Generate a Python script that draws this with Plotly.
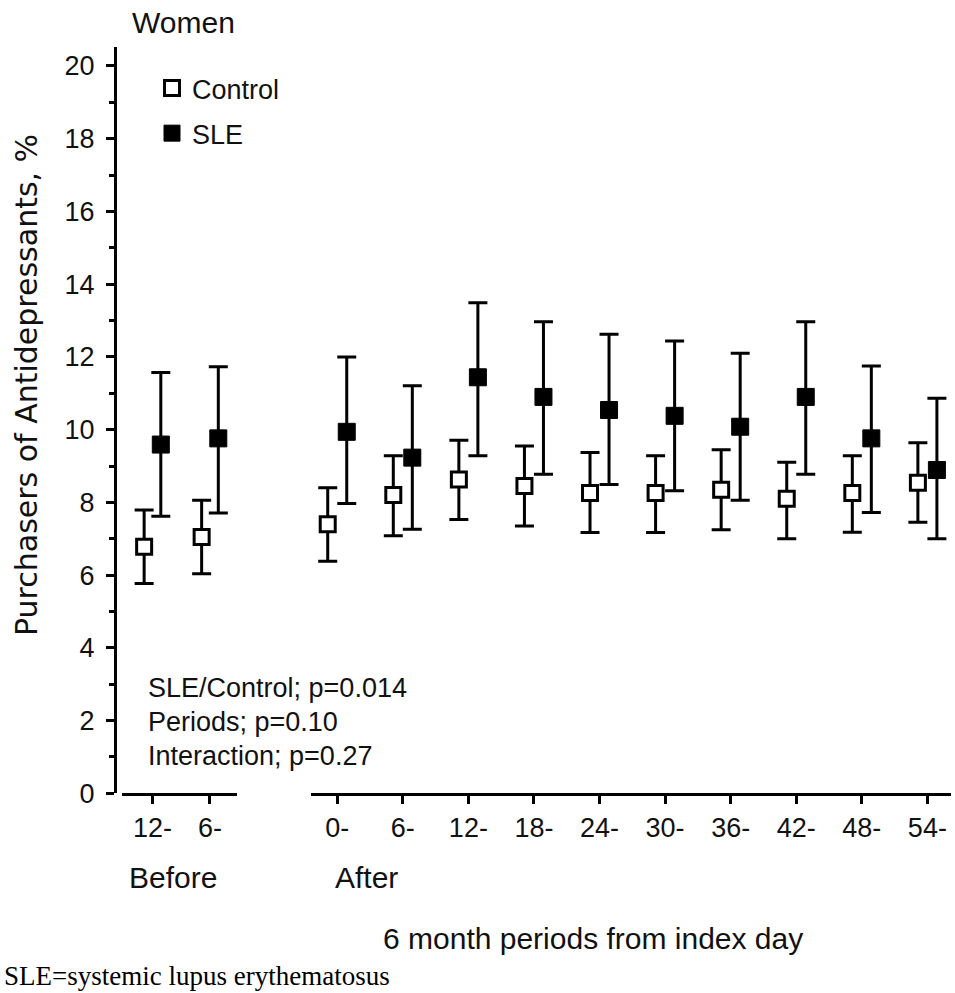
import plotly.graph_objects as go

# ---------------- data ----------------
before_labels = ["12-", "6-"]
after_labels = ["0-", "6-", "12-", "18-", "24-", "30-", "36-", "42-", "48-", "54-"]

control_before = [6.78, 7.05]
control_before_hi = [7.79, 8.06]
control_before_lo = [5.77, 6.04]
sle_before = [9.59, 9.76]
sle_before_hi = [11.57, 11.73]
sle_before_lo = [7.62, 7.71]

control_after = [7.40, 8.20, 8.63, 8.45, 8.26, 8.26, 8.35, 8.10, 8.26, 8.54]
control_after_hi = [8.40, 9.28, 9.71, 9.55, 9.37, 9.28, 9.45, 9.10, 9.28, 9.64]
control_after_lo = [6.38, 7.08, 7.53, 7.35, 7.17, 7.17, 7.25, 7.00, 7.18, 7.45]
sle_after = [9.94, 9.23, 11.44, 10.90, 10.54, 10.38, 10.08, 10.90, 9.76, 8.89]
sle_after_hi = [12.00, 11.21, 13.49, 12.97, 12.62, 12.44, 12.10, 12.97, 11.75, 10.86]
sle_after_lo = [7.97, 7.26, 9.28, 8.77, 8.49, 8.32, 8.06, 8.77, 7.72, 7.00]

y_ticks = list(range(0, 21, 2))
stats_lines = ["SLE/Control; p=0.014", "Periods; p=0.10", "Interaction; p=0.27"]

# ---------------- layout helpers ----------------
W, H = 955, 993
def fx(px):
    return px / W
def fy(py):
    return 1 - py / H

FONT = "Liberation Sans, Arial, sans-serif"
FS = 27
TXT = "#111"
OFF = 0.145


def err(vals, hi, lo):
    return dict(type="data", symmetric=False,
                array=[h - v for h, v in zip(hi, vals)],
                arrayminus=[v - l for v, l in zip(vals, lo)],
                color="black", thickness=3, width=9.5)


ctrl_marker = dict(symbol="square", size=15, color="white", line=dict(color="black", width=3))
sle_marker = dict(symbol="square", size=17, color="black", line=dict(color="black", width=1))

fig = go.Figure()

xb = list(range(len(before_labels)))
xa = list(range(len(after_labels)))

fig.add_trace(go.Scatter(x=[i - OFF for i in xb], y=control_before, mode="markers",
                         marker=ctrl_marker, error_y=err(control_before, control_before_hi, control_before_lo),
                         name="Control", legendgroup="c", xaxis="x", yaxis="y"))
fig.add_trace(go.Scatter(x=[i - OFF for i in xa], y=control_after, mode="markers",
                         marker=ctrl_marker, error_y=err(control_after, control_after_hi, control_after_lo),
                         name="Control", legendgroup="c", showlegend=False, xaxis="x2", yaxis="y"))
fig.add_trace(go.Scatter(x=[i + OFF for i in xb], y=sle_before, mode="markers",
                         marker=sle_marker, error_y=err(sle_before, sle_before_hi, sle_before_lo),
                         name="SLE", legendgroup="s", xaxis="x", yaxis="y"))
fig.add_trace(go.Scatter(x=[i + OFF for i in xa], y=sle_after, mode="markers",
                         marker=sle_marker, error_y=err(sle_after, sle_after_hi, sle_after_lo),
                         name="SLE", legendgroup="s", showlegend=False, xaxis="x2", yaxis="y"))

axis_common = dict(showline=True, linecolor="black", linewidth=3, ticks="outside",
                   ticklen=8, tickwidth=2.5, tickcolor="black", showgrid=False, zeroline=False,
                   tickfont=dict(family=FONT, size=FS, color=TXT), fixedrange=True)

fig.update_layout(
    autosize=True,
    margin=dict(l=0, r=0, t=0, b=0, autoexpand=False),
    paper_bgcolor="white", plot_bgcolor="white",
    showlegend=True,
    legend=dict(x=fx(152), y=fy(64), xanchor="left", yanchor="top",
                font=dict(family=FONT, size=FS, color=TXT),
                bgcolor="rgba(0,0,0,0)", itemwidth=30, tracegroupgap=7),
    xaxis=dict(domain=[fx(122), fx(237)], range=[-0.53, 1.47], anchor="y",
               tickvals=xb, ticktext=before_labels, **axis_common),
    xaxis2=dict(domain=[fx(311), fx(951)], range=[-0.40, 9.36], anchor="y",
                tickvals=xa, ticktext=after_labels, **axis_common),
    yaxis=dict(domain=[fy(793.3), fy(46.7)], range=[0, 20.53], anchor="free", position=fx(115),
               tickvals=y_ticks, minor=dict(dtick=1, tick0=0, ticks="outside", ticklen=5,
                                            tickwidth=2.5, tickcolor="black"),
               ticklabelstandoff=6, **axis_common),
)


def txt(text, x, y, xanchor="center", size=FS, family=FONT, angle=0, color=TXT):
    return dict(text=text, x=fx(x), y=fy(y), xref="paper", yref="paper",
                xanchor=xanchor, yanchor="middle", textangle=angle, showarrow=False,
                font=dict(family=family, size=size, color=color))


ann = [txt("Women", 183, 23, size=30),
       txt("Purchasers of Antidepressants, %", 27, 385, angle=-90,
           family="DejaVu Sans, Verdana, sans-serif", size=30)]
for i, line in enumerate(stats_lines):
    ann.append(txt(line, 146, 688 + 34 * i, xanchor="left"))
ann.append(txt("Before", 173, 877, size=30))
ann.append(txt("After", 366, 877, size=30))
ann.append(txt("6 month periods from index day", 593, 938, size=30))
ann.append(txt("SLE=systemic lupus erythematosus", 2, 976, xanchor="left",
               family="Liberation Serif, Times New Roman, serif", size=27, color="black"))
fig.update_layout(annotations=ann)

fig.write_html("out.html",
               default_width="100vw", default_height="100vh",
               config={"displayModeBar": False, "responsive": True},
               post_script="document.body.style.margin='0';document.body.style.overflow='hidden';"
                           "window.dispatchEvent(new Event('resize'));")
